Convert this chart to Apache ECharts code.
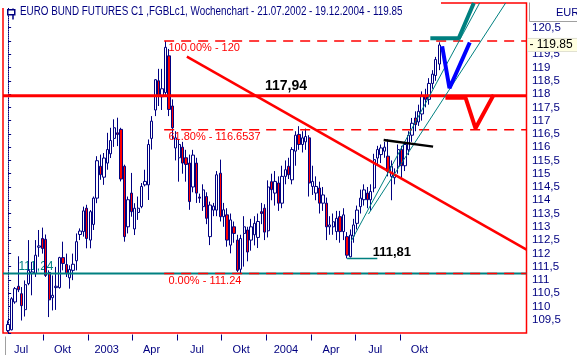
<!DOCTYPE html>
<html lang="de">
<head>
  <meta charset="UTF-8">
  <title>Euro Bund Futures</title>
  <style>
    * { box-sizing: border-box; padding: 0; margin: 0; }
    html, body, #main { width: 100%; height: 100%; background: #fff; }
  </style>
  <script src="https://cdn.jsdelivr.net/npm/echarts@6/dist/echarts.min.js"></script>
</head>
<body>
  <div id="main"></div>
  <script>
    // Wochenkerzen ab der Woche vom 21.07.2002
    var startDate = '2002-07-21';
    var open = [109.09,109.12,110.17,110.76,110.48,109.88,110.86,111.24,111.24,112.23,112.56,112.53,111.28,110.33,110.71,110.71,111.84,111.58,111.08,111.36,111.72,112.71,112.82,113.70,112.50,113.09,114.08,115.28,114.87,115.40,115.75,116.33,116.54,116.67,115.28,113.00,114.27,112.92,113.54,113.76,114.58,114.58,116.33,117.40,118.50,117.90,118.06,119.44,117.55,115.97,115.60,116.00,115.60,115.40,114.50,115.40,114.12,113.76,114.14,112.63,113.63,113.63,115.02,113.38,113.45,112.31,113.00,112.50,111.40,112.75,112.88,112.50,112.70,112.60,113.57,113.70,112.85,114.70,114.27,114.65,113.89,114.90,115.28,114.77,115.85,116.48,116.10,116.20,116.35,114.52,114.27,114.46,113.89,113.89,113.00,113.00,112.82,113.38,112.82,112.63,111.87,112.65,113.13,113.76,114.02,114.27,114.02,114.46,115.59,115.72,115.85,115.66,114.90,114.85,115.28,115.91,115.30,115.90,116.45,117.10,116.95,117.25,117.93,117.80,118.40,118.70,119.13];
    var close = [109.32,110.29,110.67,110.63,110.03,110.82,111.36,111.30,111.93,112.28,112.18,111.17,110.25,110.42,110.76,111.84,111.62,111.24,111.39,111.59,112.44,112.84,113.60,112.56,113.57,114.08,115.49,114.96,115.59,115.91,116.25,116.73,116.48,114.80,112.63,114.02,113.57,113.70,113.70,114.52,114.71,116.10,116.98,118.54,117.95,118.20,119.76,117.42,116.73,116.35,116.10,115.40,115.35,113.95,115.70,114.27,114.08,114.39,113.32,113.82,113.78,114.96,113.38,113.64,112.50,113.26,112.75,111.36,112.56,113.00,112.05,113.00,113.13,113.20,113.50,112.80,114.50,114.40,114.71,113.89,114.90,115.15,114.96,115.91,116.45,116.10,116.35,116.40,114.65,114.71,114.52,113.89,114.20,113.00,113.07,113.19,113.32,112.82,113.45,111.93,112.69,113.07,113.63,114.08,114.39,114.02,114.33,115.53,115.91,115.97,116.00,115.09,115.28,114.96,115.91,115.30,116.10,116.45,116.90,116.85,117.35,117.93,117.80,118.40,118.75,119.30,119.85];
    var low = [109.03,109.10,110.10,110.54,109.47,109.62,110.80,110.42,111.11,111.87,111.99,111.11,109.60,109.85,109.87,110.67,111.36,111.11,110.67,110.99,111.36,112.50,112.63,112.19,112.19,112.88,113.89,114.77,114.58,115.15,115.59,116.01,116.04,114.71,112.44,112.75,113.38,112.69,113.26,113.70,114.52,114.01,115.91,117.17,117.55,117.40,117.93,117.17,116.29,115.50,114.70,115.00,114.70,113.64,114.30,113.90,113.90,113.60,113.10,112.31,113.40,113.40,113.20,113.00,112.25,112.00,112.40,111.30,111.24,111.50,111.70,112.10,112.30,112.20,113.10,112.50,112.60,114.00,113.80,113.60,113.70,114.60,114.80,114.60,115.30,115.90,115.80,115.90,114.14,114.20,114.00,113.50,113.60,112.50,112.70,112.70,112.50,112.40,112.50,111.81,111.85,112.40,112.90,113.50,113.80,113.70,113.60,114.30,115.30,115.40,115.60,114.90,114.00,114.60,115.00,114.85,115.10,115.70,116.20,116.60,116.80,117.00,117.50,117.60,118.20,118.50,118.90];
    var high = [109.47,110.35,110.73,111.89,110.73,110.98,112.50,111.68,112.50,112.88,112.97,112.71,111.36,111.17,111.49,111.87,112.44,111.99,111.55,111.99,112.75,112.94,113.76,113.83,113.63,114.14,115.66,115.72,115.78,116.54,116.73,117.05,117.11,116.73,115.34,114.14,115.03,113.89,114.14,114.65,115.15,116.29,117.17,118.56,118.95,118.95,120.00,119.70,117.80,116.60,116.30,116.20,115.90,115.72,115.90,115.60,114.25,114.60,114.30,113.95,113.90,115.10,115.53,113.90,113.70,113.50,113.20,112.70,112.70,113.40,113.00,113.30,113.40,113.50,113.90,113.85,114.75,115.00,115.10,114.90,115.30,115.50,115.60,116.00,116.60,116.79,116.60,116.70,116.45,115.30,114.90,114.70,114.50,114.10,113.40,113.50,113.60,113.60,113.70,112.80,112.90,113.30,113.80,114.40,114.60,114.50,114.60,115.75,116.05,116.10,116.20,116.29,115.50,115.20,116.10,116.05,116.20,116.60,117.10,117.35,117.60,118.10,118.20,118.60,118.90,119.40,119.95];

    // Zeitachse: Quartalsanfaenge (Striche) und Beschriftungen (Wochen ab Start)
    var quarterStarts = ['2002-10-01','2003-01-01','2003-04-01','2003-07-01','2003-10-01','2004-01-01','2004-04-01','2004-07-01','2004-10-01'];
    var quarterLabels = ['Jul','Okt','2003','Apr','Jul','Okt','2004','Apr','Jul','Okt'];
    var labelWeeks = [3.8, 15.9, 28.8, 41.9, 55.2, 68.1, 81.2, 94.4, 107.3, 120.2];

    // Einzeichnungen (Woche, Kurs)
    var lastPrice = 119.85;
    var resistance = 117.94;
    var fibLevels = [120, 116.6537, 111.24];
    var fibTexts = ['100.00% - 120', '61.80% - 116.6537', '0.00% - 111.24'];
    var fibStart = 45.6;
    var downTrend = [[52.24, 119.41], [151.5, 112.14]];
    var upTrend1 = [[100.3, 112.47], [137.8, 121.43]];
    var upTrend2 = [[105.3, 113.48], [145.4, 121.43]];
    var flagLine = [[109.76, 116.27], [124.2, 116.02]];
    var lowMark = [[99.06, 111.81], [107.9, 111.81]];
    var tealPath = [[123.4, 120.1], [131.7, 120.1], [136.1, 121.43]];
    var bluePath = [[126.85, 119.8], [128.99, 118.22], [134.92, 119.94]];
    var redPath = [[127.8, 117.86], [133.7, 117.86], [136.6, 116.71], [141.9, 117.97]];

    var title = 'EURO BUND FUTURES C1 ,FGBLc1, Wochenchart - 21.07.2002 - 19.12.2004 - 119.85';

    var WEEK = 7 * 864e5;
    var t0 = Date.parse(startDate);
    var weeks = open.map(function (v, i) {
      return new Date(t0 + i * WEEK).toISOString().slice(0, 10);
    });
    var tickWeeks = quarterStarts.map(function (d) { return (Date.parse(d) - t0) / WEEK; });

    var navy = '#000080';
    var teal = '#008080';
    var font = "'Liberation Sans', Arial, sans-serif";
    var xMin = -1.5, xMax = 151.5;

    function seg(data, color, width, type, z) {
      return {
        type: 'line', data: data, symbol: 'none', silent: true, z: z || 3,
        lineStyle: { color: color, width: width, type: type || 'solid' }
      };
    }
    function note(t, v, text, style) {
      return { value: [t, v], label: Object.assign({ show: true, position: 'right', distance: 0, opacity: 1, formatter: text }, style) };
    }

    var myChart = echarts.init(document.getElementById('main'));
    var series = [];

    // Beschriftung der Unterstuetzung liegt hinter den Kerzen
    series.push({
      type: 'scatter', z: 1, silent: true, symbolSize: 1, itemStyle: { color: 'rgba(255,255,255,0)' },
      data: [note(2.9, fibLevels[2], '111,24', { color: teal, fontSize: 12, fontFamily: font, offset: [0, -7] })]
    });

    series.push({
      type: 'candlestick', z: 2, silent: true,
      encode: { x: 0, y: [1, 2, 3, 4] },
      barWidth: 2.8,
      itemStyle: { color: '#ffffff', color0: '#ff0000', borderColor: navy, borderColor0: navy, borderWidth: 1 },
      data: weeks.map(function (d, i) { return { name: d, value: [i, open[i], close[i], low[i], high[i]] }; }),
      markLine: {
        silent: true, symbol: 'none', animation: false,
        lineStyle: { color: 'rgba(255,255,255,0)', width: 0 },
        label: {
          show: true, position: 'end', distance: 1, formatter: '- ' + lastPrice,
          color: '#000', fontSize: 12, fontFamily: font,
          backgroundColor: '#ffffe1', borderColor: '#c0c0c0', borderWidth: 0.5,
          padding: [1, 20, 0, 2]
        },
        data: [{ yAxis: lastPrice }]
      }
    });

    series.push(seg([[xMin, fibLevels[2]], [xMax, fibLevels[2]]], teal, 2));
    fibLevels.forEach(function (lv) {
      series.push(seg([[fibStart, lv], [xMax, lv]], '#ff0000', 1.5, [10, 7]));
    });
    series.push(seg([[xMin, resistance], [xMax, resistance]], '#ff0000', 3));
    series.push(seg(downTrend, '#ff0000', 2.5));
    series.push(seg(upTrend1, teal, 1));
    series.push(seg(upTrend2, teal, 1));
    series.push(seg(lowMark, teal, 1.5));
    series.push(seg(flagLine, '#000000', 2.5));
    series.push(seg(tealPath, teal, 4));
    series.push(seg(bluePath, '#0000ff', 4));
    series.push(seg(redPath, '#ff0000', 4));

    var fibStyle = { color: '#ff0000', fontSize: 11, fontFamily: font, offset: [0, 7] };
    series.push({
      type: 'scatter', z: 5, silent: true, symbolSize: 1, itemStyle: { color: 'rgba(255,255,255,0)' },
      data: [
        note(46.7, fibLevels[0], fibTexts[0], fibStyle),
        note(46.7, fibLevels[1], fibTexts[1], fibStyle),
        note(46.7, fibLevels[2], fibTexts[2], fibStyle),
        note(74.9, resistance, '117,94', { color: '#000', fontSize: 14, fontWeight: 'bold', fontFamily: font, offset: [0, -10] }),
        note(106.4, lowMark[0][1], '111,81', { color: '#000', fontSize: 13, fontWeight: 'bold', fontFamily: font, offset: [0, -6] })
      ]
    });

    var option = {
      animation: false,
      backgroundColor: '#fff',
      graphic: [
        // Titelfeld verdeckt den oberen Rahmen links
        { type: 'rect', left: 0, top: 0, z: 19, shape: { width: 441, height: 8 }, style: { fill: '#fff' } },
        { type: 'text', left: 20, top: 6, z: 20, scaleX: 0.82, style: { text: title, fill: navy, font: '12px ' + font } },
        { type: 'line', left: 10.5, top: 6, z: 20, shape: { x1: 0, y1: 0, x2: 0, y2: 11 }, style: { stroke: navy, lineWidth: 1.5 } },
        { type: 'rect', left: 7, top: 9, z: 21, shape: { x: 0, y: 0, width: 7, height: 5 }, style: { fill: '#fff', stroke: navy, lineWidth: 1.5 } },
        { type: 'line', left: 527, top: 0, z: 20, shape: { x1: 0, y1: 0, x2: 0, y2: 19 }, style: { stroke: '#a0a0a0', lineWidth: 1 } },
        { type: 'line', left: 527, top: 19, z: 20, shape: { x1: 0, y1: 0, x2: 50, y2: 0 }, style: { stroke: '#a0a0a0', lineWidth: 1 } },
        { type: 'text', left: 556, top: 7, z: 20, style: { text: 'EUR', fill: navy, font: '11px ' + font } },
        { type: 'line', left: 3, top: 334, z: 20, shape: { x1: 0, y1: 0, x2: 0, y2: 21 }, style: { stroke: '#a0a0a0', lineWidth: 1 } }
      ],
      grid: {
        left: 3, top: 3, right: 50.5, bottom: 22,
        show: true, borderColor: '#ff0000', borderWidth: 1.5, backgroundColor: '#fff',
        containLabel: false, outerBoundsMode: 'none'
      },
      xAxis: {
        type: 'value', min: xMin, max: xMax, offset: 1.5,
        axisLine: { show: false },
        splitLine: { show: false },
        axisTick: { show: true, length: 6, lineStyle: { color: navy, width: 1 }, customValues: tickWeeks },
        axisLabel: {
          customValues: labelWeeks, margin: 10, color: navy, fontSize: 11, fontFamily: font,
          formatter: function (v) { var i = labelWeeks.indexOf(v); return i >= 0 ? quarterLabels[i] : ''; }
        }
      },
      yAxis: {
        type: 'value', position: 'right', min: 109, max: 121.43, interval: 0.5, offset: 3.5,
        axisLine: { show: true, lineStyle: { color: navy, width: 1, type: 'dotted' } },
        axisTick: { show: true, length: 3, lineStyle: { color: navy, width: 1 } },
        splitLine: { show: false },
        axisLabel: {
          margin: 2, color: navy, fontSize: 11.5, fontFamily: font,
          formatter: function (v) {
            var twice = v * 2;
            if (Math.abs(twice - Math.round(twice)) > 1e-6) return '';
            if (v === 109 || v === 120 || v === 121) return '';
            return String(v).replace('.', ',');
          }
        }
      },
      series: series
    };
    myChart.setOption(option);
    window.onresize = myChart.resize;
  </script>
</body>
</html>
